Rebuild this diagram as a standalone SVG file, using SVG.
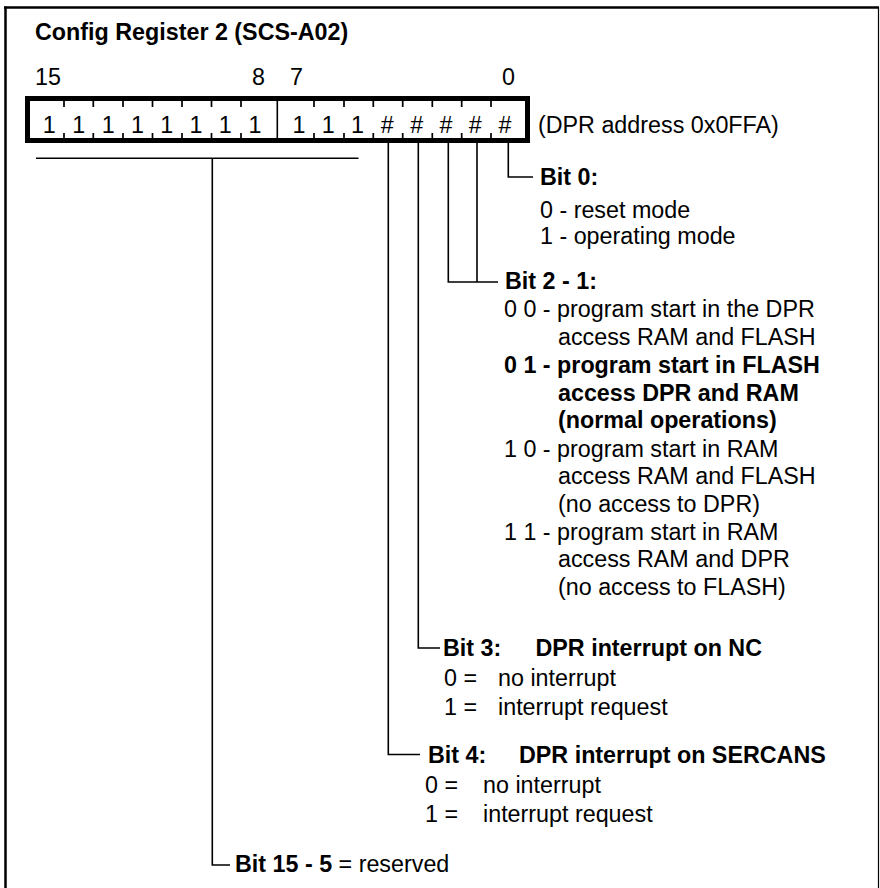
<svg xmlns="http://www.w3.org/2000/svg" width="880" height="888" viewBox="0 0 880 888">
<style>
  text { font-family: "Liberation Sans", Arial, sans-serif; font-size: 23.3px; fill: #000; }
  .b { font-weight: bold; }
  .mid { text-anchor: middle; }
  .ln { stroke: #000; stroke-width: 1.6; fill: none; }
  .tick { stroke: #000; stroke-width: 1.7; }
</style>
<rect width="880" height="888" fill="#fff"/>
<g id="frame">
  <line x1="4" y1="7.5" x2="879" y2="7.5" stroke="#000" stroke-width="2.5"/>
  <line x1="5.5" y1="6.5" x2="5.5" y2="888" stroke="#000" stroke-width="2.5"/>
  <line x1="878.5" y1="7" x2="878.5" y2="888" stroke="#000" stroke-width="1.2"/>
</g>
<g id="title">
  <text class="b" x="35" y="40">Config Register 2 (SCS-A02)</text>
</g>
<g id="bit-numbers">
  <text x="35" y="85">15</text>
  <text x="252" y="85">8</text>
  <text x="290" y="85">7</text>
  <text x="502" y="85">0</text>
</g>
<g id="register">
  <rect x="27.5" y="98.5" width="500" height="42" fill="none" stroke="#000" stroke-width="5"/>
  <line x1="277.3" y1="100" x2="277.3" y2="139" stroke="#000" stroke-width="1.6"/>
  <g class="tick">
    <path d="M64 101V107M93.3 101V107M123 101V107M152.5 101V107M182 101V107M211.5 101V107M241 101V107M314 101V107M344 101V107M373.3 101V107M402.7 101V107M432.3 101V107M461.7 101V107M491 101V107" stroke="#000" stroke-width="1.7"/>
    <path d="M64 133V139M93.3 133V139M123 133V139M152.5 133V139M182 133V139M211.5 133V139M241 133V139M314 133V139M344 133V139M373.3 133V139M402.7 133V139M432.3 133V139M461.7 133V139M491 133V139" stroke="#000" stroke-width="1.7"/>
  </g>
  <text class="mid" x="49.3" y="133">1</text>
  <text class="mid" x="78.7" y="133">1</text>
  <text class="mid" x="108.3" y="133">1</text>
  <text class="mid" x="137.5" y="133">1</text>
  <text class="mid" x="166.7" y="133">1</text>
  <text class="mid" x="196" y="133">1</text>
  <text class="mid" x="225.3" y="133">1</text>
  <text class="mid" x="255" y="133">1</text>
  <text class="mid" x="299" y="133">1</text>
  <text class="mid" x="328.3" y="133">1</text>
  <text class="mid" x="357.5" y="133">1</text>
  <text class="mid" x="387.3" y="133">#</text>
  <text class="mid" x="416.7" y="133">#</text>
  <text class="mid" x="446" y="133">#</text>
  <text class="mid" x="475.3" y="133">#</text>
  <text class="mid" x="505" y="133">#</text>
  <text x="538" y="133">(DPR address 0x0FFA)</text>
</g>
<g id="connectors">
  <path class="ln" d="M508.3 143V177H533"/>
  <path class="ln" d="M448.3 143V282H498M477 143V282"/>
  <path class="ln" d="M418.3 143V648H440"/>
  <path class="ln" d="M388.3 143V754.5H420"/>
  <path class="ln" d="M36 158.3H358.5M212.3 158.3V865H230"/>
</g>
<g id="bit0">
  <text class="b" x="540" y="184.5">Bit 0:</text>
  <text x="540" y="218">0 - reset mode</text>
  <text x="540" y="244">1 - operating mode</text>
</g>
<g id="bit2-1">
  <text class="b" x="505" y="289">Bit 2 - 1:</text>
  <text x="504" y="317">0 0 - program start in the DPR</text>
  <text x="558" y="345">access RAM and FLASH</text>
  <text class="b" x="504" y="373">0 1 - program start in FLASH</text>
  <text class="b" x="558" y="400.5">access DPR and RAM</text>
  <text class="b" x="558" y="428">(normal operations)</text>
  <text x="504" y="456.5">1 0 - program start in RAM</text>
  <text x="558" y="484">access RAM and FLASH</text>
  <text x="558" y="511.5">(no access to DPR)</text>
  <text x="504" y="539.5">1 1 - program start in RAM</text>
  <text x="558" y="567">access RAM and DPR</text>
  <text x="558" y="595">(no access to FLASH)</text>
</g>
<g id="bit3">
  <text class="b" x="443" y="656">Bit 3:</text>
  <text class="b" x="535.5" y="656">DPR interrupt on NC</text>
  <text x="444" y="686">0 =</text>
  <text x="498" y="686">no interrupt</text>
  <text x="444" y="715">1 =</text>
  <text x="498" y="715">interrupt request</text>
</g>
<g id="bit4">
  <text class="b" x="428" y="763">Bit 4:</text>
  <text class="b" x="519" y="763">DPR interrupt on SERCANS</text>
  <text x="425" y="793">0 =</text>
  <text x="483" y="793">no interrupt</text>
  <text x="425" y="822">1 =</text>
  <text x="483" y="822">interrupt request</text>
</g>
<g id="bit15-5">
  <text x="235" y="872"><tspan class="b">Bit 15 - 5</tspan> = reserved</text>
</g>
</svg>
